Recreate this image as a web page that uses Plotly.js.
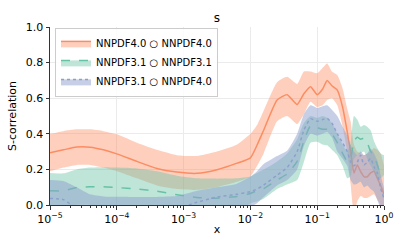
<!DOCTYPE html>
<html>
<head>
<meta charset="utf-8">
<script src="https://cdn.plot.ly/plotly-3.0.1.min.js"></script>
<style>html,body{margin:0;padding:0;background:#fff;}#chart{width:407px;height:250px;}</style>
</head>
<body>
<div id="chart"></div>
<script>
// x grid (momentum fraction)
const xVals = [1e-5,1.585e-5,2.512e-5,3.981e-5,6.31e-5,1e-4,2.0e-4,3.98e-4,7.94e-4,1.585e-3,3.16e-3,6.31e-3,0.01,0.0126,0.0158,0.0251,0.0355,0.0501,0.0631,0.0794,0.1,0.12,0.141,0.166,0.2,0.24,0.282,0.316,0.355,0.398,0.447,0.501,0.562,0.631,0.708,0.794,0.891,1.0];

// NNPDF4.0 ○ NNPDF4.0
const s44Center = [0.294,0.31,0.326,0.325,0.31,0.287,0.245,0.205,0.185,0.178,0.198,0.235,0.265,0.337,0.42,0.59,0.62,0.565,0.625,0.665,0.62,0.65,0.70,0.67,0.645,0.55,0.41,0.30,0.18,0.225,0.187,0.159,0.159,0.18,0.19,0.15,0.11,0.06];
const s44Upper  = [0.40,0.415,0.425,0.425,0.415,0.397,0.35,0.31,0.28,0.275,0.30,0.34,0.40,0.45,0.53,0.69,0.72,0.68,0.75,0.75,0.74,0.77,0.795,0.75,0.73,0.655,0.54,0.47,0.34,0.30,0.29,0.28,0.29,0.30,0.32,0.31,0.29,0.22];
const s44Lower  = [0.19,0.21,0.225,0.225,0.21,0.19,0.15,0.11,0.09,0.085,0.10,0.13,0.16,0.22,0.29,0.47,0.50,0.455,0.51,0.58,0.55,0.56,0.59,0.60,0.56,0.44,0.30,0.12,-0.05,0.02,0.05,0.04,0.04,0.05,0.06,0.03,0.0,-0.05];

// NNPDF3.1 ○ NNPDF3.1
const s33Center = [0.08,0.08,0.098,0.102,0.103,0.098,0.09,0.077,0.058,0.042,0.038,0.048,0.065,0.08,0.092,0.14,0.175,0.245,0.36,0.445,0.435,0.425,0.425,0.40,0.35,0.29,0.245,0.26,0.36,0.38,0.37,0.375,0.35,0.30,0.28,0.225,0.178,0.187];
const s33Upper  = [0.18,0.178,0.20,0.21,0.212,0.21,0.205,0.19,0.165,0.15,0.148,0.15,0.16,0.18,0.20,0.245,0.29,0.37,0.46,0.50,0.49,0.50,0.49,0.46,0.40,0.34,0.30,0.35,0.50,0.48,0.44,0.45,0.44,0.42,0.36,0.32,0.29,0.28];
const s33Lower  = [-0.02,-0.02,0.0,0.0,0.0,-0.01,-0.02,-0.04,-0.05,-0.07,-0.07,-0.05,0.01,0.02,0.035,0.09,0.115,0.14,0.24,0.35,0.355,0.34,0.335,0.31,0.28,0.22,0.15,0.16,0.26,0.28,0.29,0.30,0.26,0.22,0.19,0.15,0.15,0.17];

// NNPDF3.1 ○ NNPDF4.0
const s34Center = [0.037,0.03,-0.02,-0.05,-0.06,-0.06,-0.06,-0.05,-0.02,0.015,0.045,0.06,0.075,0.09,0.112,0.168,0.21,0.30,0.42,0.485,0.47,0.48,0.487,0.46,0.40,0.35,0.30,0.243,0.22,0.24,0.28,0.225,0.24,0.262,0.215,0.18,0.094,0.037];
const s34Upper  = [0.14,0.135,0.10,0.06,0.048,0.046,0.045,0.045,0.05,0.08,0.10,0.12,0.16,0.19,0.23,0.275,0.305,0.40,0.51,0.56,0.545,0.555,0.56,0.535,0.50,0.44,0.39,0.337,0.30,0.28,0.30,0.28,0.29,0.318,0.29,0.25,0.169,0.094];
const s34Lower  = [-0.07,-0.07,-0.12,-0.15,-0.16,-0.16,-0.16,-0.15,-0.12,-0.08,-0.05,-0.03,-0.01,0.01,0.045,0.11,0.14,0.20,0.33,0.40,0.39,0.40,0.41,0.38,0.30,0.26,0.22,0.14,0.115,0.12,0.13,0.10,0.11,0.09,0.075,0.03,-0.02,-0.05];

const seriesNames = ['NNPDF4.0 ○ NNPDF4.0','NNPDF3.1 ○ NNPDF3.1','NNPDF3.1 ○ NNPDF4.0'];
const yTickVals = [0,0.2,0.4,0.6,0.8,1.0];
const xTickVals = [1e-5,1e-4,1e-3,1e-2,1e-1,1];
const xTickText = ['10<sup>−5</sup>','10<sup>−4</sup>','10<sup>−3</sup>','10<sup>−2</sup>','10<sup>−1</sup>','10<sup>0</sup>'];

const series = [
  {name: seriesNames[0], c: s44Center, u: s44Upper, l: s44Lower, color: '#fc8d62', fill: 'rgba(252,141,98,0.42)', dash: 'solid'},
  {name: seriesNames[1], c: s33Center, u: s33Upper, l: s33Lower, color: '#66c2a5', fill: 'rgba(102,194,165,0.42)', dash: 'dash'},
  {name: seriesNames[2], c: s34Center, u: s34Upper, l: s34Lower, color: '#8da0cb', fill: 'rgba(141,160,203,0.5)', dash: 'dot'}
];

const traces = [];
series.forEach((s, i) => {
  traces.push({x: xVals, y: s.u, type: 'scatter', mode: 'lines', line: {width: 0, shape: 'spline', smoothing: 0.5}, showlegend: false, hoverinfo: 'skip'});
  traces.push({x: xVals, y: s.l, type: 'scatter', mode: 'lines', fill: 'tonexty', fillcolor: s.fill, line: {width: 0, shape: 'spline', smoothing: 0.5}, showlegend: false, hoverinfo: 'skip'});
  traces.push({x: xVals, y: s.c, type: 'scatter', mode: 'lines', line: {color: s.color, width: 1.5, dash: s.dash, shape: 'spline', smoothing: 0.5}, showlegend: false});
});
series.forEach((s) => {
  traces.push({x: [null], y: [null], type: 'scatter', mode: 'lines', name: s.name, fill: 'toself', fillcolor: s.fill, line: {color: s.color, width: 1.5, dash: s.dash}, showlegend: true});
});

const axisCommon = {
  showline: true, linecolor: '#333', linewidth: 1, mirror: false,
  ticks: 'outside', ticklen: 3.5, tickcolor: '#333', tickwidth: 1,
  showgrid: true, gridcolor: '#ebebeb', gridwidth: 1, zeroline: false,
  tickfont: {family: 'DejaVu Sans', size: 11, color: '#000'}
};

const layout = {
  width: 407, height: 250,
  margin: {l: 50, r: 23, t: 27, b: 45},
  paper_bgcolor: '#fff', plot_bgcolor: '#fff',
  font: {family: 'DejaVu Sans', size: 11, color: '#000'},
  title: {text: 's', x: 0.533, xanchor: 'center', y: 0.93, yanchor: 'middle', yref: 'container', font: {family: 'DejaVu Sans', size: 12, color: '#000'}},
  xaxis: Object.assign({}, axisCommon, {
    type: 'log', range: [-5, 0], tickvals: xTickVals, ticktext: xTickText,
    title: {text: 'x', standoff: 0, font: {family: 'DejaVu Sans', size: 11, color: '#000'}},
    minor: {ticks: 'outside', ticklen: 2, tickcolor: '#333', dtick: 'D1', showgrid: false}
  }),
  yaxis: Object.assign({}, axisCommon, {
    range: [0, 1], tickvals: yTickVals, tickformat: '.1f',
    title: {text: 'S-correlation', standoff: 6, font: {family: 'DejaVu Sans', size: 11, color: '#000'}}
  }),
  legend: {x: 0.015, y: 0.995, xanchor: 'left', yanchor: 'top', traceorder: 'normal', bgcolor: 'rgba(255,255,255,0.85)', bordercolor: '#cccccc', borderwidth: 1, font: {family: 'DejaVu Sans', size: 10, color: '#000'}, tracegroupgap: 0, itemwidth: 30},
  showlegend: true
};

Plotly.newPlot('chart', traces, layout, {staticPlot: true, displayModeBar: false});
</script>
</body>
</html>
